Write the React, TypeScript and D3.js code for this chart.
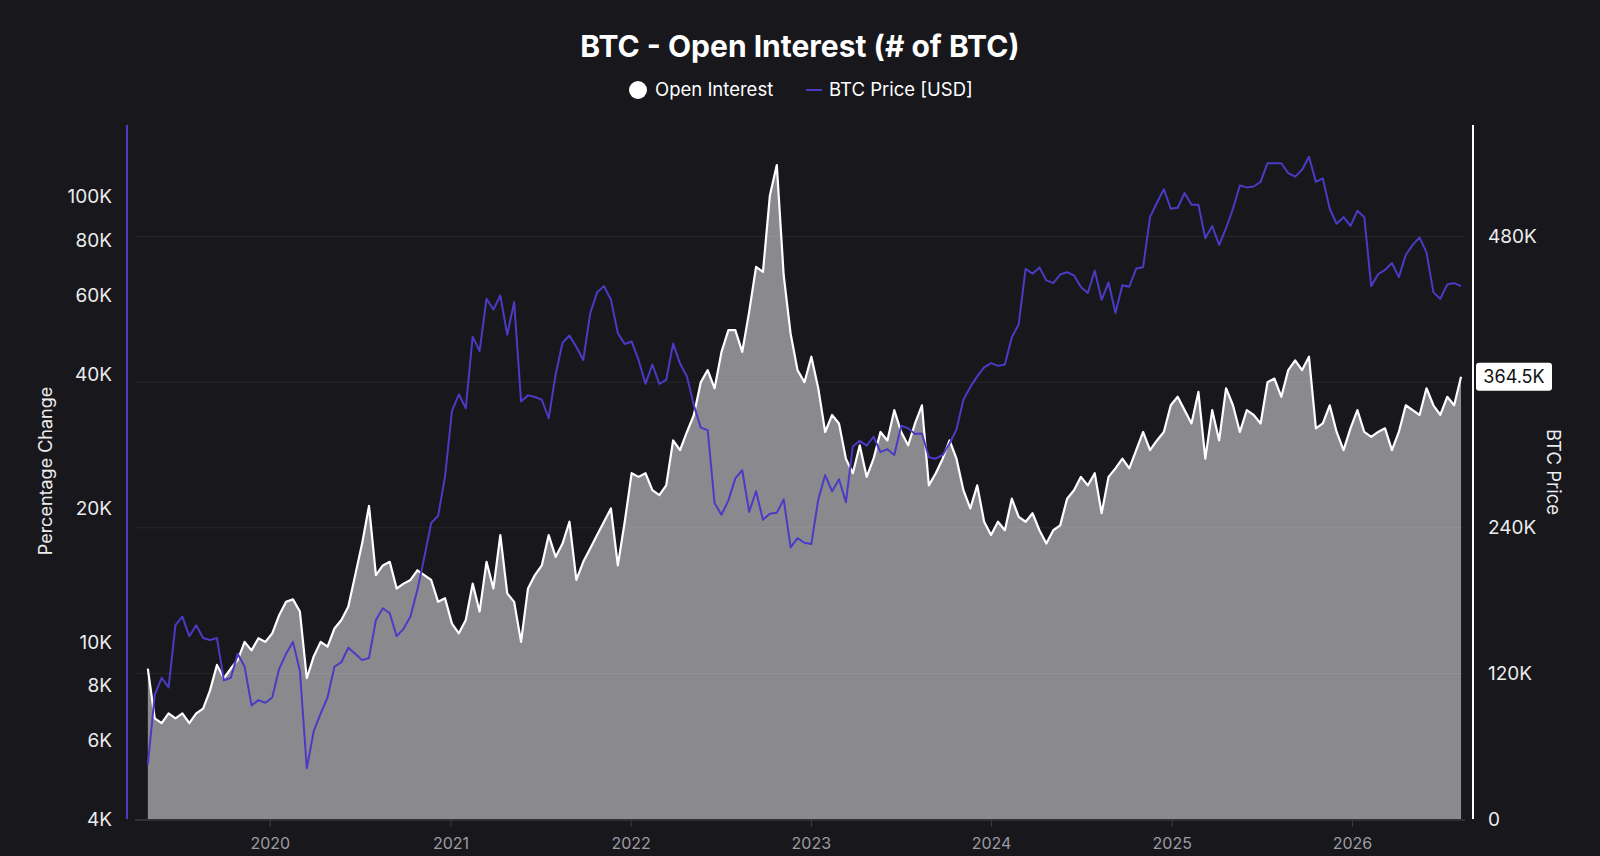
import * as d3 from "d3";
import React, { useEffect, useRef } from "react";

// data sampled every 14 days starting 2019-04-28
const START = new Date(2019, 3, 28);
const STEP_DAYS = 14;

// BTC price in USD (left, log axis)
const btcPrice = [
  5300, 7600, 8300, 7900, 10900, 11400, 10300, 10900, 10200, 10100,
  10200, 8200, 8300, 9400, 8800, 7200, 7400, 7300, 7500, 8700,
  9400, 10000, 8600, 5200, 6300, 6900, 7500, 8800, 9000, 9700,
  9400, 9100, 9200, 11200, 11900, 11600, 10300, 10700, 11400, 13100,
  15500, 18500, 19200, 23500, 33000, 36000, 33500, 48500, 45000, 59000,
  55800, 60000, 49000, 58000, 34700, 35800, 35500, 35000, 31800, 39900,
  47000, 48800, 46000, 43000, 54700, 61000, 63000, 58700, 49400, 46700,
  47300, 43000, 38000, 42000, 38000, 38800, 46800, 42200, 39500, 34000,
  30300, 29900, 20500, 19300, 20800, 23300, 24300, 19600, 21800, 18800,
  19400, 19500, 20900, 16300, 17100, 16700, 16600, 20900, 23700, 21800,
  23200, 20600, 27500, 28300, 27600, 28900, 26700, 27100, 26300, 30600,
  30200, 29300, 29400, 26000, 25800, 26300, 27900, 30000, 35000, 37400,
  39500, 41400, 42300, 41700, 42000, 48300, 51700, 68900, 67200, 69400,
  64900, 64000, 66900, 67700, 66600, 62700, 60800, 68200, 58700, 64200,
  54800, 63300, 62800, 69000, 69500, 90000, 97000, 104000, 94000, 94500,
  102000, 96000, 96000, 80700, 86000, 78000, 85000, 94000, 106000, 105000,
  105500, 108000, 119000, 119000, 119000, 113000, 111000, 115000, 123000, 108000,
  110000, 94000, 87000, 90000, 86000, 93000, 90000, 63000, 67000, 68500,
  71000, 66000, 74000, 78000, 81000, 75000, 61000, 59000, 63500, 64000,
  63000,
];

// open interest in thousand BTC (right, linear axis)
const openInterest = [
  124, 83, 79, 87, 83, 87, 79, 87, 91, 106,
  127, 116, 124, 131, 146, 139, 149, 146, 153, 168,
  179, 181, 171, 116, 134, 146, 142, 157, 164, 175,
  201, 227, 258, 201, 209, 212, 190, 194, 197, 205,
  201, 197, 179, 182, 161, 153, 164, 194, 171, 212,
  190, 234, 186, 179, 146, 190, 201, 209, 234, 216,
  227, 245, 197, 212, 223, 234, 245, 256, 209, 245,
  285, 282, 285, 271, 267, 275, 312, 304, 319, 333,
  360, 370, 355, 385, 403, 403, 385, 418, 455, 451,
  514, 539, 448, 400, 370, 360, 381, 355, 319, 333,
  326, 297, 285, 308, 282, 297, 319, 312, 337, 319,
  308, 326, 341, 275, 285, 297, 312, 297, 271, 256,
  275, 245, 234, 245, 238, 264, 249, 245, 252, 238,
  227, 238, 242, 264, 271, 282, 275, 285, 252, 282,
  289, 297, 289, 304, 319, 304, 312, 319, 341, 348,
  337, 326, 352, 297, 337, 312, 355, 341, 319, 337,
  333, 326, 360, 363, 348, 370, 378, 370, 381, 322,
  326, 341, 319, 304, 322, 337, 319, 315, 319, 322,
  304, 319, 341, 337, 333, 355, 341, 333, 348, 341,
  364.5,
];

const priceTicks = [4000, 6000, 8000, 10000, 20000, 40000, 60000, 80000, 100000];
const oiTicks = [0, 120, 240, 360, 480];

const BG = "#17171c";
const PURPLE = "#4b3bc4";
const AREA = "#8a898e";
const FONT = "Inter, 'Noto Sans', sans-serif";

const App: React.FC = () => {
  const svgRef = useRef<SVGSVGElement>(null);

  useEffect(() => {
    document.body.style.margin = "0";
    document.body.style.background = BG;
    const svg = d3.select(svgRef.current);
    svg.selectAll("*").remove();

    const left = 135, right = 1465, top = 125, bottom = 819;
    const dates = btcPrice.map((_, i) => d3.timeDay.offset(START, i * STEP_DAYS));
    const last = openInterest[openInterest.length - 1];

    const x = d3.scaleTime()
      .domain([new Date(2019, 3, 2), new Date(2026, 7, 17)])
      .range([left, right]);
    const yPrice = d3.scaleLog().domain([4000, 145000]).range([bottom, top]);
    const yOI = d3.scaleLinear().domain([0, 572]).range([bottom, top]);

    svg.append("rect").attr("width", 1600).attr("height", 856).attr("fill", BG);

    // open interest area
    const area = d3.area<number>()
      .x((_, i) => x(dates[i]))
      .y0(yOI(0))
      .y1(d => yOI(d));
    svg.append("path").datum(openInterest).attr("d", area).attr("fill", AREA);

    // grid lines from the right axis
    svg.append("g")
      .selectAll("line")
      .data(oiTicks.filter(d => d > 0))
      .enter()
      .append("line")
      .attr("x1", left)
      .attr("x2", right)
      .attr("y1", d => yOI(d))
      .attr("y2", d => yOI(d))
      .attr("stroke", "rgba(255,255,255,0.07)")
      .attr("stroke-width", 1);

    const oiLine = d3.line<number>()
      .x((_, i) => x(dates[i]))
      .y(d => yOI(d));
    svg.append("path").datum(openInterest)
      .attr("d", oiLine)
      .attr("fill", "none")
      .attr("stroke", "#ffffff")
      .attr("stroke-width", 2.2)
      .attr("stroke-linejoin", "round");

    const priceLine = d3.line<number>()
      .x((_, i) => x(dates[i]))
      .y(d => yPrice(d));
    svg.append("path").datum(btcPrice)
      .attr("d", priceLine)
      .attr("fill", "none")
      .attr("stroke", PURPLE)
      .attr("stroke-width", 2)
      .attr("stroke-linejoin", "round");

    // x axis
    svg.append("line")
      .attr("x1", left).attr("x2", right)
      .attr("y1", bottom + 1).attr("y2", bottom + 1)
      .attr("stroke", "#4a4a50");
    const years = x.ticks(d3.timeYear.every(1)!).filter(d => d.getFullYear() >= 2020);
    const xg = svg.append("g");
    xg.selectAll("line").data(years).enter().append("line")
      .attr("x1", d => x(d)).attr("x2", d => x(d))
      .attr("y1", bottom + 1).attr("y2", bottom + 8)
      .attr("stroke", "#3c3c42");
    xg.selectAll("text").data(years).enter().append("text")
      .attr("x", d => x(d))
      .attr("y", bottom + 24)
      .attr("dy", "0.35em")
      .attr("text-anchor", "middle")
      .attr("fill", "#9d9ca3")
      .attr("font-family", FONT)
      .attr("font-size", 16)
      .text(d => d3.timeFormat("%Y")(d));

    // left axis
    svg.append("line")
      .attr("x1", 127).attr("x2", 127)
      .attr("y1", top).attr("y2", bottom)
      .attr("stroke", PURPLE).attr("stroke-width", 2);
    svg.append("g").selectAll("text").data(priceTicks).enter().append("text")
      .attr("x", 112)
      .attr("y", d => yPrice(d))
      .attr("dy", "0.35em")
      .attr("text-anchor", "end")
      .attr("fill", "#ececec")
      .attr("font-family", FONT)
      .attr("font-size", 19)
      .text(d => `${d / 1000}K`);
    svg.append("text")
      .attr("transform", "translate(46,471) rotate(-90)")
      .attr("text-anchor", "middle")
      .attr("dy", "0.35em")
      .attr("fill", "#ececec")
      .attr("font-family", FONT)
      .attr("font-size", 18)
      .text("Percentage Change");

    // right axis (the 360K label sits under the last-value badge)
    svg.append("line")
      .attr("x1", 1473).attr("x2", 1473)
      .attr("y1", top).attr("y2", bottom)
      .attr("stroke", "#ffffff").attr("stroke-width", 2);
    svg.append("g").selectAll("text")
      .data(oiTicks.filter(d => Math.abs(yOI(d) - yOI(last)) > 20))
      .enter().append("text")
      .attr("x", 1488)
      .attr("y", d => yOI(d))
      .attr("dy", "0.35em")
      .attr("fill", "#ececec")
      .attr("font-family", FONT)
      .attr("font-size", 19)
      .text(d => (d === 0 ? "0" : `${d}K`));
    svg.append("text")
      .attr("transform", "translate(1553,472) rotate(90)")
      .attr("text-anchor", "middle")
      .attr("dy", "0.35em")
      .attr("fill", "#ececec")
      .attr("font-family", FONT)
      .attr("font-size", 18.5)
      .text("BTC Price");

    // last value badge
    const badge = svg.append("g").attr("transform", `translate(1476,${yOI(last)})`);
    badge.append("rect")
      .attr("x", 0).attr("y", -14)
      .attr("width", 76).attr("height", 28)
      .attr("rx", 3)
      .attr("fill", "#ffffff");
    badge.append("text")
      .attr("x", 38).attr("y", 0)
      .attr("dy", "0.35em")
      .attr("text-anchor", "middle")
      .attr("fill", "#111")
      .attr("font-family", FONT)
      .attr("font-size", 18)
      .text(`${last}K`);

    // title
    svg.append("text")
      .attr("x", 800).attr("y", 57)
      .attr("text-anchor", "middle")
      .attr("fill", "#ffffff")
      .attr("font-family", FONT)
      .attr("font-weight", 700)
      .attr("font-size", 30)
      .text("BTC - Open Interest (# of BTC)");

    // legend
    const lg = svg.append("g").attr("transform", "translate(0,90)");
    lg.append("circle").attr("cx", 638).attr("cy", 0).attr("r", 9).attr("fill", "#ffffff");
    lg.append("text")
      .attr("x", 655).attr("y", 0).attr("dy", "0.35em")
      .attr("fill", "#ffffff").attr("font-family", FONT).attr("font-size", 18.5)
      .text("Open Interest");
    lg.append("line")
      .attr("x1", 806).attr("x2", 822).attr("y1", 0).attr("y2", 0)
      .attr("stroke", PURPLE).attr("stroke-width", 2);
    lg.append("text")
      .attr("x", 829).attr("y", 0).attr("dy", "0.35em")
      .attr("fill", "#ffffff").attr("font-family", FONT).attr("font-size", 18.5)
      .text("BTC Price [USD]");
  }, []);

  return <svg ref={svgRef} width={1600} height={856} style={{ display: "block" }} />;
};

export default App;
